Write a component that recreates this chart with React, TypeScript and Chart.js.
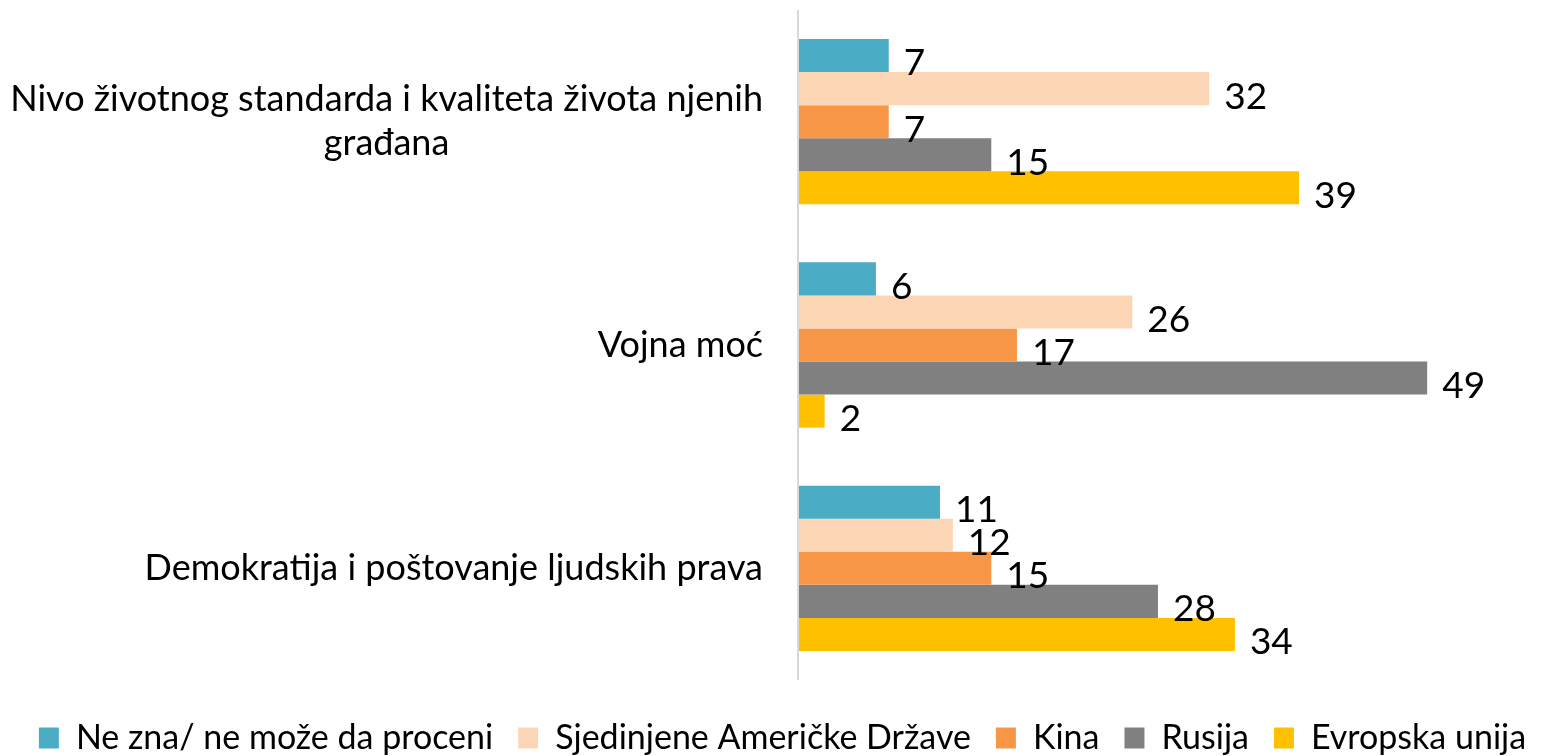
import React, { useEffect, useRef } from "react";
import { Chart, registerables } from "chart.js";

Chart.register(...registerables);

const categories: string[][] = [
  ["Nivo životnog standarda i kvaliteta života njenih", "građana"],
  ["Vojna moć"],
  ["Demokratija i poštovanje ljudskih prava"],
];

const seriesNames = [
  "Ne zna/ ne može da proceni",
  "Sjedinjene Američke Države",
  "Kina",
  "Rusija",
  "Evropska unija",
];

const neZna = [7, 6, 11];
const sad = [32, 26, 12];
const kina = [7, 17, 15];
const rusija = [15, 49, 28];
const eu = [39, 2, 34];

const colors = ["#4BACC6", "#FCD5B5", "#F79646", "#808080", "#FFC000"];

const FONT = "Lato";

const drawPlugin = {
  id: "customDraw",
  afterDatasetsDraw(chart: any) {
    const ctx = chart.ctx;
    const area = chart.chartArea;
    ctx.save();
    // axis line
    ctx.strokeStyle = "#D9D9D9";
    ctx.lineWidth = 2;
    ctx.beginPath();
    ctx.moveTo(area.left - 1, area.top);
    ctx.lineTo(area.left - 1, area.bottom);
    ctx.stroke();

    // data labels
    ctx.fillStyle = "#000";
    ctx.textAlign = "left";
    ctx.textBaseline = "middle";
    ctx.font = `37px ${FONT}`;
    chart.data.datasets.forEach((ds: any, di: number) => {
      const meta = chart.getDatasetMeta(di);
      meta.data.forEach((bar: any, i: number) => {
        ctx.fillText(String(ds.data[i]), bar.x + 15, bar.y + 8);
      });
    });

    // category labels
    const yScale = chart.scales.y;
    ctx.font = `36px ${FONT}`;
    ctx.textAlign = "center";
    const rightEdge = area.left - 36;
    const lineH = 44;
    categories.forEach((lines, i) => {
      const cy = yScale.getPixelForValue(i);
      const maxW = Math.max(...lines.map((l) => ctx.measureText(l).width));
      const cx = rightEdge - maxW / 2;
      lines.forEach((l, j) => {
        ctx.fillText(l, cx, cy + (j - (lines.length - 1) / 2) * lineH);
      });
    });
    ctx.restore();
  },
};

export default function App() {
  const ref = useRef<HTMLCanvasElement>(null);
  useEffect(() => {
    if (!ref.current) return;
    const values = [neZna, sad, kina, rusija, eu];
    const chart = new Chart(ref.current, {
      type: "bar",
      data: {
        labels: categories.map((c) => c.join(" ")),
        datasets: values.map((v, i) => ({
          label: seriesNames[i],
          data: v,
          backgroundColor: colors[i],
          borderWidth: 0,
          categoryPercentage: 0.74,
          barPercentage: 1,
        })),
      },
      options: {
        indexAxis: "y",
        animation: false,
        responsive: true,
        maintainAspectRatio: false,
        layout: { padding: { left: 0, right: 0, top: 10, bottom: -9 } },
        scales: {
          x: {
            display: true,
            min: 0,
            max: 59.75,
            ticks: { display: false },
            grid: { display: false },
            border: { display: false },
            afterFit: (s: any) => {
              s.height = 16;
            },
          },
          y: {
            display: true,
            ticks: { display: false },
            grid: { display: false },
            border: { display: false },
            afterFit: (s: any) => {
              s.width = 799;
            },
          },
        },
        plugins: {
          tooltip: { enabled: false },
          legend: {
            position: "bottom",
            labels: {
              boxWidth: 20,
              boxHeight: 21,
              padding: 25,
              color: "#000",
              font: { family: FONT, size: 34 },
            },
          },
        },
      },
      plugins: [drawPlugin],
    });
    return () => chart.destroy();
  }, []);
  return (
    <div style={{ position: "fixed", left: 0, top: 0, width: 1565, height: 756, background: "#fff" }}>
      <canvas ref={ref} />
    </div>
  );
}
